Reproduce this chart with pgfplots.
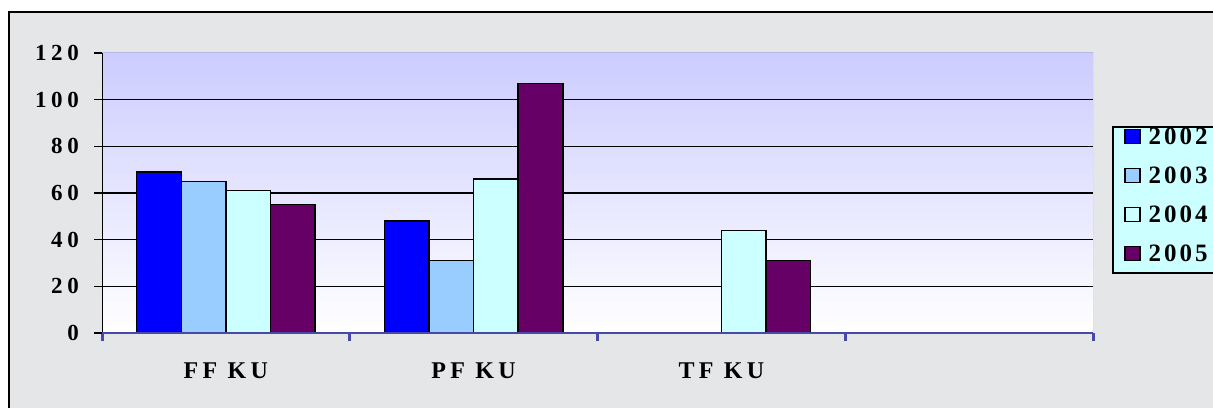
\documentclass[border=0pt]{standalone}
\usepackage{fontspec}
\setmainfont{Liberation Serif}
\usepackage{pgfplots}
\pgfplotsset{compat=1.18}

\definecolor{cA}{HTML}{0000FF}
\definecolor{cB}{HTML}{99CCFF}
\definecolor{cC}{HTML}{CCFFFF}
\definecolor{cD}{HTML}{660066}
\definecolor{marble}{HTML}{E4E6E8}
\definecolor{plottop}{HTML}{CCCCFF}
\definecolor{axblue}{HTML}{4848A8}
\definecolor{rim}{HTML}{B8B8E8}

\newcommand\yfont{\bfseries\fontsize{23bp}{23bp}\selectfont\addfontfeature{LetterSpace=20}}
\newcommand\xfont{\bfseries\fontsize{24bp}{24bp}\selectfont\addfontfeature{LetterSpace=18}}
\newcommand\lfont{\bfseries\fontsize{25bp}{25bp}\selectfont\addfontfeature{LetterSpace=12}}

\begin{document}
\begin{tikzpicture}[x=1bp,y=1bp]
\path[use as bounding box] (0,0) rectangle (1213,407);
\clip (0,0) rectangle (1213,407);
\fill[white] (0,0) rectangle (1213,407);
% chart area (marble)
\fill[marble] (9,-5) rectangle (1220,395);
\draw[black,line width=2bp] (9,-5) -- (9,395) -- (1220,395);
% legend box
\fill[cC] (1113,134) rectangle (1230,280);
\draw[black,line width=1.5bp] (1230,134) -- (1113,134) -- (1113,280) -- (1230,280);

\begin{axis}[
  at={(102bp,74bp)}, anchor=south west, scale only axis,
  width=991bp, height=280bp,
  xmin=0, xmax=4, ymin=0, ymax=120,
  axis background/.style={top color=plottop, bottom color=white},
  axis line style={draw=none},
  ybar=0pt, bar width=0.18,
  every axis plot/.append style={draw=black, line width=1.5bp},
  legend image code/.code={\draw[#1,draw=black,line width=1.5bp] (0bp,-7bp) rectangle (15bp,7bp);},
  xtick={0,1,2,3,4}, x tick label as interval,
  xticklabels={FF KU,PF KU,TF KU,{}},
  xtick pos=bottom, ytick pos=left,
  tick align=outside, major tick length=8bp,
  xtick style={draw=axblue, line width=3bp},
  ytick style={draw=black, line width=1.5bp},
  ytick={0,20,...,120},
  extra y ticks={20,40,60,80,100}, extra y tick labels={},
  extra y tick style={grid=major, major tick length=0pt},
  major grid style={black, line width=1.5bp},
  /pgf/number format/assume math mode=true,
  yticklabel style={font=\yfont, inner sep=0pt, xshift=-15bp},
  xticklabel style={font=\xfont, inner sep=0pt, text height=17bp, text depth=0pt, yshift=-20bp},
  legend style={at={(1.0313,0.7317)}, anchor=north west, draw=none, fill=none,
    inner sep=0pt, font=\lfont, row sep=22.5bp, column sep=8bp,
    nodes={inner sep=0pt, text height=16.5bp, text depth=0pt}},
  legend cell align=left,
]
\addplot[fill=cA] coordinates {(0.5,69) (1.5,48)};
\addplot[fill=cB] coordinates {(0.5,65) (1.5,31)};
\addplot[fill=cC] coordinates {(0.5,61) (1.5,66) (2.5,44)};
\addplot[fill=cD] coordinates {(0.5,55) (1.5,107) (2.5,31)};
\legend{2002,2003,2004,2005}
\draw[rim, line width=1bp] (rel axis cs:0,1) -- (rel axis cs:1,1) -- (rel axis cs:1,0);
\draw[black, line width=1.5bp] (rel axis cs:0,0) -- (rel axis cs:0,1);
\draw[axblue, line width=3bp] (rel axis cs:0,0) -- (rel axis cs:1,0);
\end{axis}
\end{tikzpicture}
\end{document}
